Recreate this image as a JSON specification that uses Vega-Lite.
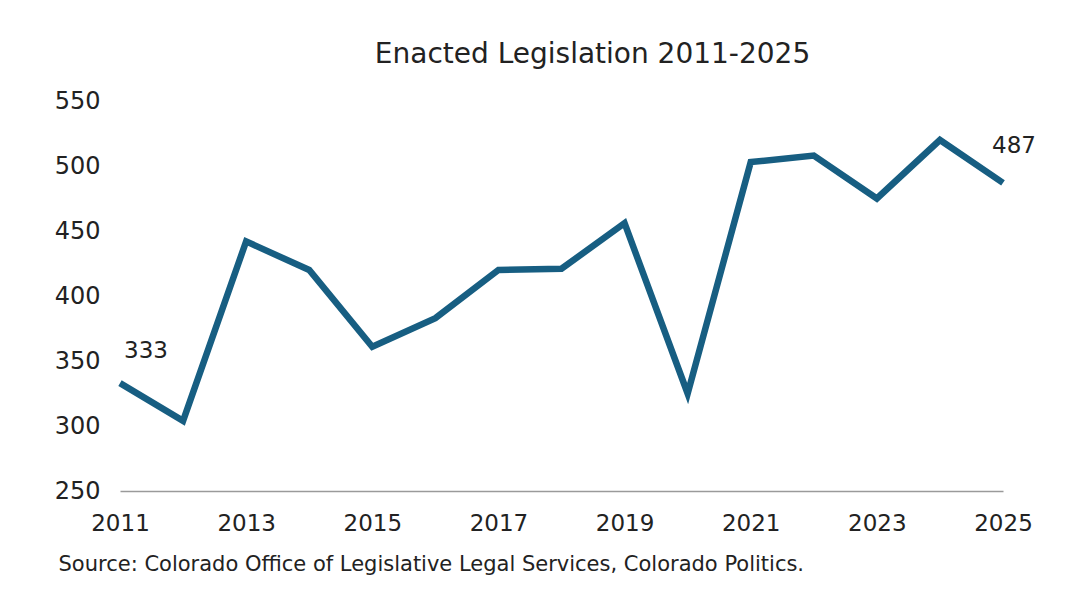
{
  "$schema": "https://vega.github.io/schema/vega-lite/v6.json",
  "width": 883,
  "height": 390,
  "autosize": {"type": "none"},
  "padding": {"left": 120, "top": 101, "right": 80, "bottom": 107},
  "background": "white",
  "title": {
    "text": "Enacted Legislation 2011-2025",
    "anchor": "middle",
    "frame": "group",
    "dx": 31,
    "offset": 20,
    "font": "DejaVu Sans",
    "fontSize": 28,
    "fontWeight": "normal",
    "color": "#222222"
  },
  "config": {
    "view": {"stroke": null},
    "font": "DejaVu Sans"
  },
  "data": {
    "values": [
      {"year": 2011, "bills": 333},
      {"year": 2012, "bills": 304},
      {"year": 2013, "bills": 442},
      {"year": 2014, "bills": 420},
      {"year": 2015, "bills": 361},
      {"year": 2016, "bills": 383},
      {"year": 2017, "bills": 420},
      {"year": 2018, "bills": 421},
      {"year": 2019, "bills": 456},
      {"year": 2020, "bills": 325},
      {"year": 2021, "bills": 503},
      {"year": 2022, "bills": 508},
      {"year": 2023, "bills": 475},
      {"year": 2024, "bills": 520},
      {"year": 2025, "bills": 487}
    ]
  },
  "encoding": {
    "x": {
      "field": "year",
      "type": "quantitative",
      "scale": {"domain": [2011, 2025], "nice": false, "zero": false},
      "axis": {
        "values": [2011, 2013, 2015, 2017, 2019, 2021, 2023, 2025],
        "format": "d",
        "grid": false,
        "ticks": false,
        "domain": true,
        "domainColor": "#9a9a9a",
        "domainWidth": 1.5,
        "labelFlush": false,
        "labelBound": false,
        "labelOverlap": false,
        "labelFont": "DejaVu Sans",
        "labelFontSize": 23,
        "labelColor": "#222222",
        "labelPadding": 21,
        "title": "Source: Colorado Office of Legislative Legal Services, Colorado Politics.",
        "titleFont": "DejaVu Sans",
        "titleFontSize": 21,
        "titleFontWeight": "normal",
        "titleColor": "#222222",
        "titleAnchor": "start",
        "titleAlign": "left",
        "titleBaseline": "alphabetic",
        "titleX": -62,
        "titleY": 79
      }
    },
    "y": {
      "field": "bills",
      "type": "quantitative",
      "scale": {"domain": [250, 550], "nice": false, "zero": false},
      "axis": {
        "values": [250, 300, 350, 400, 450, 500, 550],
        "grid": false,
        "ticks": false,
        "domain": false,
        "labelFont": "DejaVu Sans",
        "labelFontSize": 24,
        "labelColor": "#222222",
        "labelPadding": 20,
        "title": null
      }
    }
  },
  "layer": [
    {
      "mark": {"type": "line", "color": "#175e82", "strokeWidth": 6.5, "strokeJoin": "miter", "strokeCap": "butt"}
    },
    {
      "transform": [{"filter": "datum.year == 2011"}],
      "mark": {"type": "text", "align": "left", "baseline": "middle", "fontSize": 23, "color": "#222222", "font": "DejaVu Sans", "dy": -32, "dx": 4},
      "encoding": {
        "text": {"field": "bills", "type": "quantitative"}
      }
    },
    {
      "transform": [{"filter": "datum.year == 2025"}],
      "mark": {"type": "text", "align": "left", "baseline": "middle", "fontSize": 23, "color": "#222222", "font": "DejaVu Sans", "dy": -37, "dx": -11},
      "encoding": {
        "text": {"field": "bills", "type": "quantitative"}
      }
    }
  ]
}
